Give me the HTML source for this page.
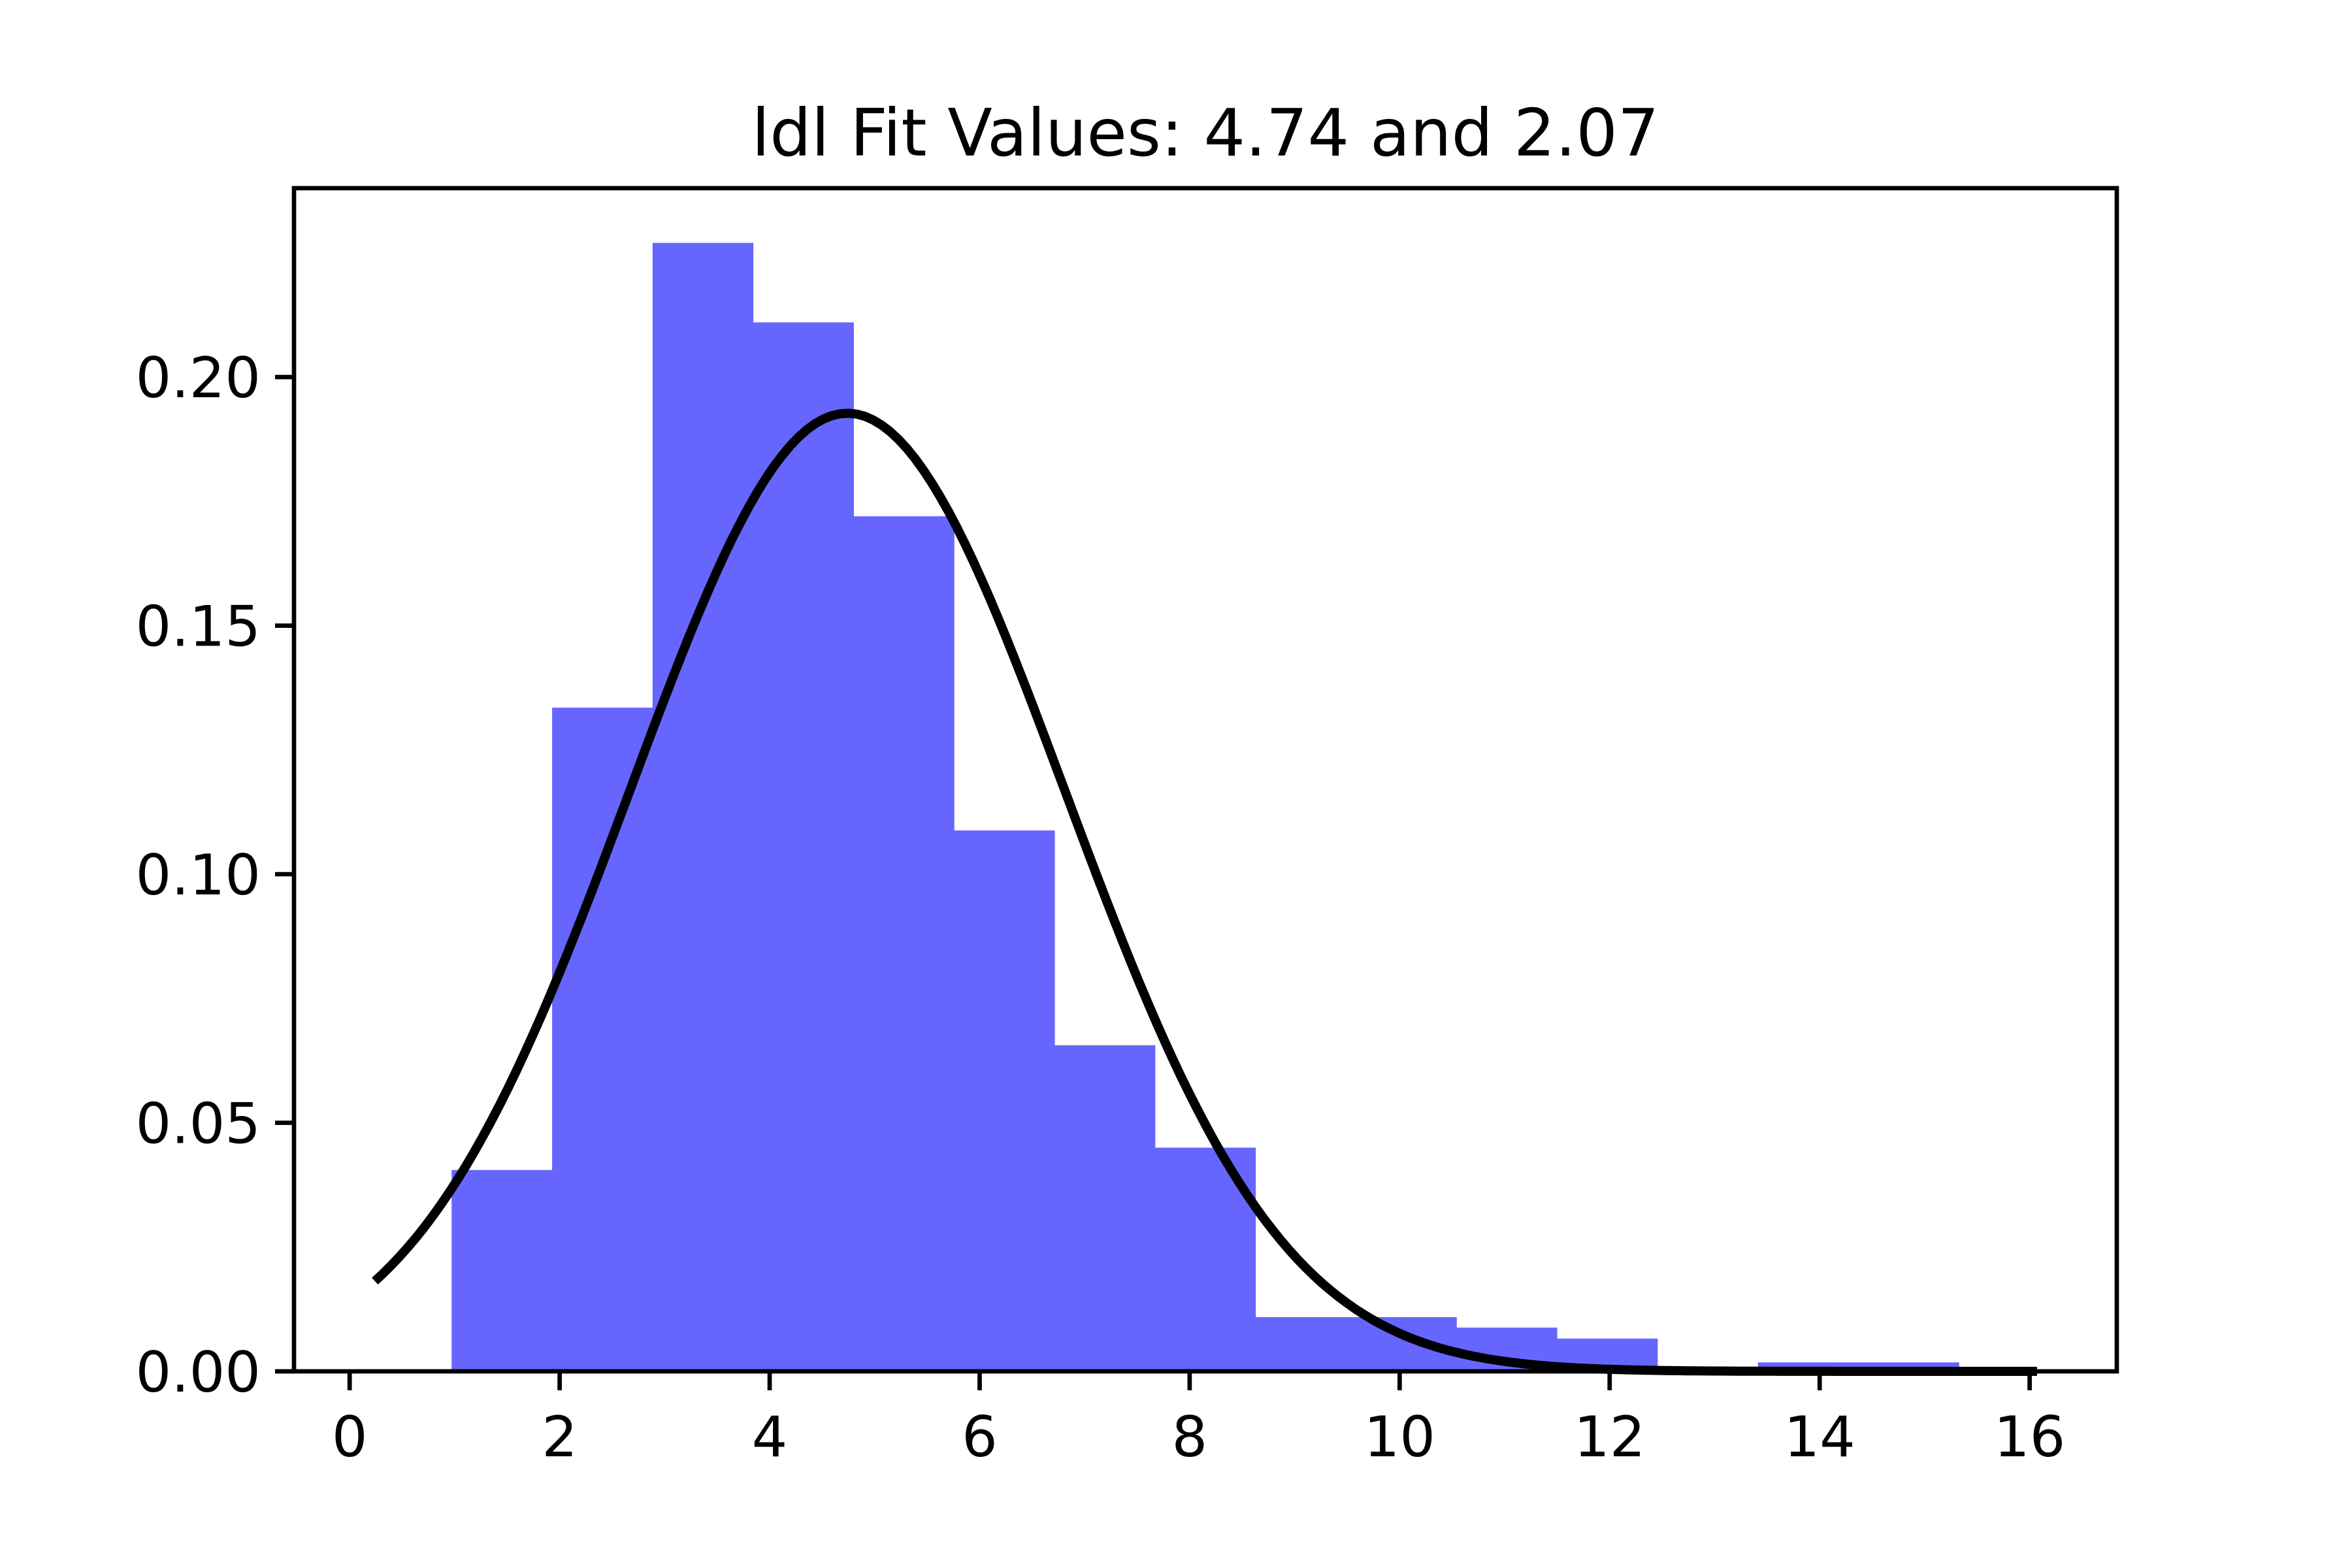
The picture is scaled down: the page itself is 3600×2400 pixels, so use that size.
<!DOCTYPE html>
<html><head><meta charset="utf-8"><style>
html,body{margin:0;padding:0;background:#fff;}
svg{display:block;font-family:"DejaVu Sans","Liberation Sans",sans-serif;}
</style></head><body>
<svg id="chart" width="3600" height="2400" viewBox="0 0 3600 2400" xmlns="http://www.w3.org/2000/svg">
<rect width="3600" height="2400" fill="#fff"/>
<text x="1845" y="238" font-size="100" text-anchor="middle">ldl Fit Values: 4.74 and 2.07</text>
<g id="bars"></g>
<g id="curve"></g>
<g id="axes"></g>
</svg>
<script>
const binStart = 0.971;
const binWidth = 0.957;
const binHeights = [0.0405,0.1335,0.227,0.211,0.172,0.1088,0.0656,0.045,0.0109,0.0109,0.0088,0.0066,0,0.0018,0.0018];
const xTicks = [0,2,4,6,8,10,12,14,16];
const yTicks = [0,0.05,0.10,0.15,0.20];
const yTickLabels = ["0.00","0.05","0.10","0.15","0.20"];
const fitMean = 4.74;
const fitSd = 2.07;
const fitRange = [0.24, 16.07];

const NS="http://www.w3.org/2000/svg";
const L=450,R=3240,T=288,B=2099;
const xMin=-0.53,xMax=16.83,yMin=0,yMax=0.238;
const sx=v=>L+(v-xMin)/(xMax-xMin)*(R-L);
const sy=v=>B-(v-yMin)/(yMax-yMin)*(B-T);
function mk(tag,attrs,parent){const e=document.createElementNS(NS,tag);for(const k in attrs)e.setAttribute(k,attrs[k]);parent.appendChild(e);return e;}

const bars=document.getElementById('bars');
binHeights.forEach((h,i)=>{
  const x0=sx(binStart+i*binWidth),x1=sx(binStart+(i+1)*binWidth);
  const r=mk('rect',{x:x0,y:sy(h),width:x1-x0+0.5,height:sy(0)-sy(h),fill:'#6666ff'},bars);
  
  
});

const cg=document.getElementById('curve');
let d='';
for(let i=0;i<=200;i++){
  const x=fitRange[0]+(fitRange[1]-fitRange[0])*i/200;
  const y=Math.exp(-0.5*((x-fitMean)/fitSd)**2)/(fitSd*Math.sqrt(2*Math.PI));
  d+=(i?'L':'M')+sx(x).toFixed(1)+','+sy(y).toFixed(1);
}
const p=mk('path',{d:d,fill:'none',stroke:'#000','stroke-width':14,'stroke-linejoin':'round'},cg);



const ax=document.getElementById('axes');
const frame=mk('rect',{x:L,y:T,width:R-L,height:B-T,fill:'none',stroke:'#000','stroke-width':6.7},ax);


xTicks.forEach(v=>{
  const t=mk('line',{x1:sx(v),x2:sx(v),y1:B,y2:B+29,stroke:'#000','stroke-width':6.7},ax);
  
  
  const tx=mk('text',{x:sx(v),y:B+130,'font-size':86,'text-anchor':'middle'},ax);
  tx.textContent=v;
  
  
});
yTicks.forEach((v,i)=>{
  const t=mk('line',{x1:L-29,x2:L,y1:sy(v),y2:sy(v),stroke:'#000','stroke-width':6.7},ax);
  
  
  const tx=mk('text',{x:L-51,y:sy(v)+31,'font-size':86,'text-anchor':'end'},ax);
  tx.textContent=yTickLabels[i];
  
  
});
</script>
</body></html>
